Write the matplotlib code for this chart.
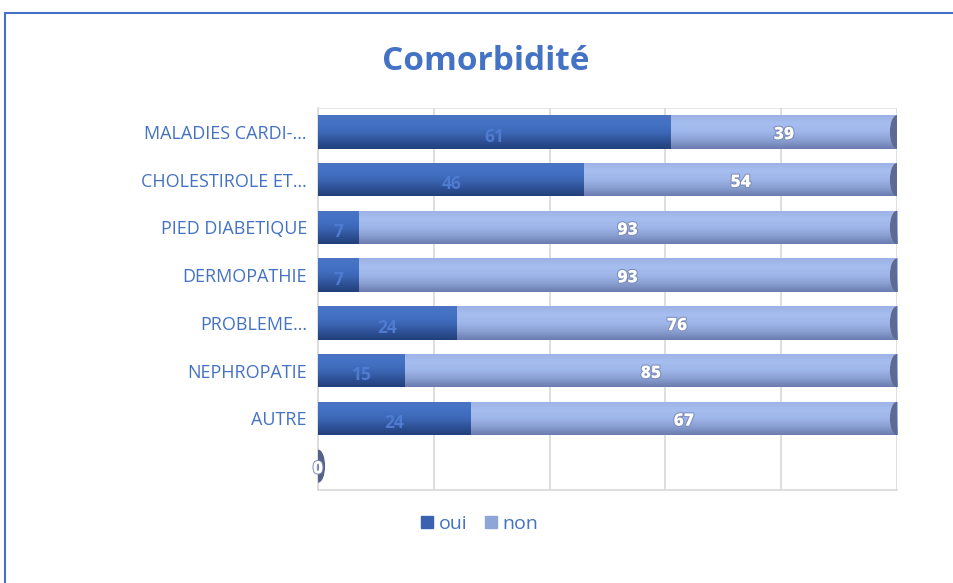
import numpy as np
import matplotlib
matplotlib.use("Agg")
import matplotlib.pyplot as plt
from matplotlib.patches import Rectangle, Ellipse
from matplotlib.colors import LinearSegmentedColormap
import matplotlib.patheffects as pe

categories = ["MALADIES CARDI-…", "CHOLESTIROLE ET…", "PIED DIABETIQUE", "DERMOPATHIE",
              "PROBLEME…", "NEPHROPATIE", "AUTRE", ""]
oui = [61, 46, 7, 7, 24, 15, 24, 0]
non = [39, 54, 93, 93, 76, 85, 67, 0]
series_names = ["oui", "non"]
title = "Comorbidité"

BLUE = "#4472c4"
plt.rcParams["font.family"] = ["Open Sans", "DejaVu Sans"]

fig = plt.figure(figsize=(9.54, 5.83), dpi=100)
ax = fig.add_axes([318/954, 1-490/583, 579/954, 382/583])

oui_a = np.array(oui, float)
non_a = np.array(non, float)
tot = oui_a + non_a
safe = np.where(tot == 0, 1, tot)
f_oui = oui_a / safe
f_non = non_a / safe
y = np.arange(len(categories))
h = 0.7

cm_oui = LinearSegmentedColormap.from_list("o", ["#4a74c2", "#4472c4", "#3d68b8", "#2f5399", "#22407a"])
cm_non = LinearSegmentedColormap.from_list("n", ["#9db2e4", "#a6bdf0", "#9fb6ea", "#8a9fd2", "#6b7daf"])

b1 = ax.barh(y, f_oui, height=h, color="#3d68b8", zorder=2)
b2 = ax.barh(y, f_non, left=f_oui, height=h, color="#9fb6ea", zorder=2)

grad = np.linspace(0, 1, 64).reshape(-1, 1)
for bars, cm in ((b1, cm_oui), (b2, cm_non)):
    for p in bars:
        x0, y0, w, hh = p.get_x(), p.get_y(), p.get_width(), p.get_height()
        if w <= 0:
            continue
        im = ax.imshow(grad, cmap=cm, aspect="auto", extent=[x0, x0 + w, y0 + hh, y0],
                       zorder=3, interpolation="bicubic")
        im.set_clip_path(p)

# end caps (cylinder look)
for yi, t in zip(y, f_oui + f_non):
    cap_color = "#5d6b94" if t > 0 else "#55628a"
    ax.add_patch(Ellipse((t, yi), 0.022, h * 0.95, color=cap_color, zorder=4))

# data labels
for yi, fo, fn, vo, vn in zip(y, f_oui, f_non, oui, non):
    if vo + vn > 0:
        ax.text(fo / 2, yi + 0.1, str(vo), ha="center", va="center", fontsize=12.5,
                fontweight="bold", color="#4f7bd0", zorder=5)
    ax.text(fo + fn / 2, yi + 0.06, str(vn), ha="center", va="center", fontsize=12.5,
            fontweight="heavy", color="white", zorder=6,
            path_effects=[pe.withStroke(linewidth=1.4, foreground="#7a8ab8")])

ax.set_ylim(len(categories) - 0.5, -0.5)
ax.set_xlim(0, 1.0)
ax.set_xticks(np.linspace(0, 1, 6))
ax.set_xticklabels([])
ax.xaxis.grid(True, color="#d9d9d9", linewidth=1.2, zorder=0)
ax.set_axisbelow(True)
ax.tick_params(axis="both", length=0)
ax.set_yticks(y)
ax.set_yticklabels(categories, fontsize=13, color=BLUE)
ax.tick_params(axis="y", pad=8)
for s in ["top", "right"]:
    ax.spines[s].set_visible(False)
ax.spines["left"].set_color("#d9d9d9")
ax.spines["bottom"].set_color("#d9d9d9")
ax.spines["left"].set_linewidth(1.2)
ax.spines["bottom"].set_linewidth(1.2)
ax.axhline(-0.5, color="#e3e3e3", linewidth=1.2, zorder=0)

fig.text(486/954, 1-62/583, title, ha="center", va="center", fontsize=24,
         fontweight="bold", color=BLUE)

handles = [Rectangle((0, 0), 1, 1, color="#3a62b0"), Rectangle((0, 0), 1, 1, color="#8ea5d8")]
leg = fig.legend(handles, series_names, loc="center", bbox_to_anchor=(480/954, 1-524/583),
                 ncol=2, frameon=False, fontsize=14, handlelength=0.6, handleheight=0.6,
                 handletextpad=0.3, columnspacing=0.9)
for t in leg.get_texts():
    t.set_color(BLUE)

fig.patches.append(Rectangle((5/954, -0.2), 1.2, 1.2 - 13/583, transform=fig.transFigure,
                             fill=False, edgecolor=BLUE, linewidth=1.5))

fig.savefig("out.png", dpi=100)
